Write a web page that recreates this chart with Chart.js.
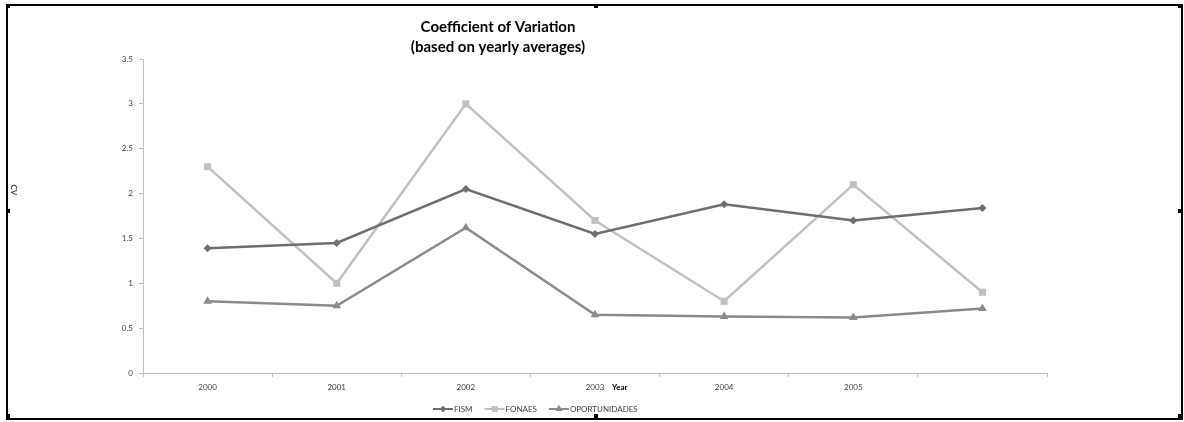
<!DOCTYPE html>
<html>
<head>
<meta charset="utf-8">
<script src="https://cdn.jsdelivr.net/npm/chart.js@4.4.0/dist/chart.umd.min.js"></script>
<style>
  html, body { margin: 0; padding: 0; background: #fff; }
  #wrap { position: relative; width: 1184px; height: 422px; }
  #frame { position: absolute; left: 6px; top: 4px; width: 1173px; height: 412px; border: 2px solid #000; box-sizing: content-box; pointer-events: none; }
  .h { position: absolute; width: 4px; height: 4px; background: #000; }
</style>
</head>
<body>
<div id="wrap">
  <canvas id="cv" width="1184" height="422"></canvas>
  <div id="frame"></div>
  <div class="h" style="left:6px;top:4px"></div>
  <div class="h" style="left:594px;top:4px"></div>
  <div class="h" style="left:1178px;top:4px"></div>
  <div class="h" style="left:6px;top:209px"></div>
  <div class="h" style="left:1178px;top:209px"></div>
  <div class="h" style="left:6px;top:414px"></div>
  <div class="h" style="left:594px;top:414px"></div>
  <div class="h" style="left:1178px;top:414px"></div>
</div>
<script>
// Data
const years = ['2000', '2001', '2002', '2003', '2004', '2005', ''];
const fism = [1.39, 1.45, 2.05, 1.55, 1.88, 1.70, 1.84];
const fonaes = [2.30, 1.00, 3.00, 1.70, 0.80, 2.10, 0.90];
const oportunidades = [0.80, 0.75, 1.62, 0.65, 0.63, 0.62, 0.72];
const yTicks = [0, 0.5, 1, 1.5, 2, 2.5, 3, 3.5];

const FONT = 'Lato, "Open Sans", sans-serif';
const TEXT = '#404040';
const AXIS = '#bfbfbf';

const series = [
    { label: 'FISM', data: fism, color: '#6e6e6e', style: 'rectRot', r: 4 },
    { label: 'FONAES', data: fonaes, color: '#c0c0c0', style: 'rect', r: 5 },
    { label: 'OPORTUNIDADES', data: oportunidades, color: '#8a8a8a', style: 'triangle', r: 5 }
];

// Title, axis titles and legend drawn by hand to match the Excel layout
const extras = {
    id: 'extras',
    afterDraw(chart) {
        const ctx = chart.ctx;
        ctx.save();

        // title
        ctx.fillStyle = '#000';
        ctx.font = 'bold 15px ' + FONT;
        ctx.textAlign = 'center';
        ctx.textBaseline = 'middle';
        ctx.fillText('Coefficient of Variation', 498, 27);
        ctx.fillText('(based on yearly averages)', 498, 47);

        // y axis title, rotated clockwise
        ctx.save();
        ctx.translate(14, 190);
        ctx.rotate(Math.PI / 2);
        ctx.font = 'bold 8px ' + FONT;
        ctx.fillStyle = TEXT;
        ctx.fillText('CV', 0, 0);
        ctx.restore();

        // x axis title sits beside the 2003 label
        ctx.font = 'bold 8px ' + FONT;
        ctx.fillStyle = '#000';
        ctx.textAlign = 'left';
        ctx.fillText('Year', 612, 387);

        // legend
        ctx.font = '8px ' + FONT;
        let x = 433;
        const y = 409;
        series.forEach(s => {
            ctx.strokeStyle = s.color;
            ctx.lineWidth = 2;
            ctx.beginPath();
            ctx.moveTo(x, y);
            ctx.lineTo(x + 20, y);
            ctx.stroke();
            ctx.fillStyle = s.color;
            Chart.helpers.drawPoint(ctx, {
                pointStyle: s.style, radius: s.r - 1, rotation: 0, borderWidth: 0
            }, x + 10, y);
            ctx.fill();
            ctx.fillStyle = TEXT;
            ctx.textAlign = 'left';
            ctx.fillText(s.label, x + 21, y);
            x += 21 + ctx.measureText(s.label).width + 12;
        });
        ctx.restore();
    }
};

const ctx = document.getElementById('cv').getContext('2d');
new Chart(ctx, {
    type: 'line',
    data: {
        labels: years,
        datasets: series.map(s => ({
            label: s.label,
            data: s.data,
            borderColor: s.color,
            backgroundColor: s.color,
            borderWidth: 2.5,
            pointStyle: s.style,
            pointRadius: s.r,
            pointBorderWidth: 0,
            tension: 0
        }))
    },
    options: {
        responsive: false,
        animation: false,
        events: [],
        layout: { padding: { top: 59, right: 137, bottom: 0, left: 0 } },
        plugins: {
            legend: { display: false },
            title: { display: false },
            tooltip: { enabled: false }
        },
        scales: {
            x: {
                offset: true,
                grid: { offset: true, drawOnChartArea: false, color: AXIS, tickLength: 4 },
                border: { color: AXIS, width: 1 },
                ticks: { color: TEXT, font: { family: FONT, size: 8 }, padding: 6, maxRotation: 0, autoSkip: false },
                afterFit(scale) { scale.height = 49; }
            },
            y: {
                min: 0,
                max: 3.5,
                afterBuildTicks(scale) { scale.ticks = yTicks.map(v => ({ value: v })); },
                grid: { drawOnChartArea: false, color: AXIS, tickLength: 4 },
                border: { color: AXIS, width: 1 },
                ticks: { color: TEXT, font: { family: FONT, size: 8 }, padding: 6, callback: v => String(v) },
                afterFit(scale) { scale.width = 143; }
            }
        }
    },
    plugins: [extras]
});
</script>
</body>
</html>
